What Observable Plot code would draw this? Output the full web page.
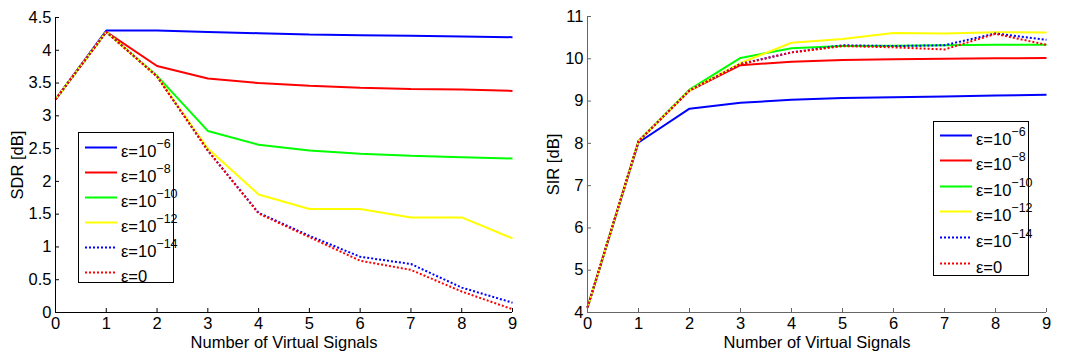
<!DOCTYPE html>
<html><head><meta charset="utf-8">
<script src="https://cdn.jsdelivr.net/npm/d3@7"></script>
<script src="https://cdn.jsdelivr.net/npm/@observablehq/plot@0.6"></script>
<style>
body{margin:0;background:#fff;font-family:"Liberation Sans",Arial,sans-serif}
#wrap{display:flex;width:1070px;height:358px}
.panel{position:relative;width:535px;height:358px}
.legend{position:absolute;border:1.5px solid #000;background:#fff;box-sizing:border-box}
.row{position:absolute;left:0;height:25px;display:flex;align-items:center;white-space:nowrap}
.row svg{margin-left:6px;margin-right:4px}
.row span{position:relative;top:4px;font-size:16.5px;color:#000}
.row sup{font-size:12.5px;position:relative;top:-4px;vertical-align:top;line-height:1}
</style>
</head><body>
<div id="wrap"><div class="panel" id="p1"></div><div class="panel" id="p2"></div></div>
<script>
const xs = [0,1,2,3,4,5,6,7,8,9];
const legendExp = ["−6","−8","−10","−12","−14",null];
const colors = ["#0000ff","#ff0000","#00ff00","#ffff00","#0000ff","#ff0000"];
const dotted = [false,false,false,false,true,true];

const sdrE6  = [3.25,4.30,4.30,4.28,4.26,4.24,4.23,4.22,4.21,4.20];
const sdrE8  = [3.25,4.28,3.76,3.57,3.50,3.46,3.43,3.41,3.40,3.38];
const sdrE10 = [3.25,4.28,3.61,2.77,2.56,2.47,2.42,2.39,2.37,2.35];
const sdrE12 = [3.25,4.28,3.60,2.50,1.80,1.58,1.58,1.45,1.45,1.13];
const sdrE14 = [3.25,4.28,3.60,2.47,1.52,1.17,0.85,0.74,0.38,0.15];
const sdrE0  = [3.25,4.28,3.60,2.47,1.51,1.15,0.79,0.65,0.32,0.05];

const sirE6  = [4.12,8.02,8.82,8.96,9.03,9.07,9.09,9.11,9.13,9.15];
const sirE8  = [4.12,8.05,9.25,9.85,9.93,9.97,9.99,10.00,10.01,10.02];
const sirE10 = [4.12,8.05,9.27,10.02,10.25,10.30,10.31,10.32,10.33,10.33];
const sirE12 = [4.12,8.05,9.25,9.90,10.38,10.47,10.61,10.60,10.63,10.62];
const sirE14 = [4.12,8.05,9.25,9.88,10.15,10.32,10.30,10.32,10.60,10.45];
const sirE0  = [4.12,8.05,9.25,9.87,10.15,10.30,10.27,10.22,10.59,10.33];

const sdrTicks = [0,0.5,1,1.5,2,2.5,3,3.5,4,4.5];
const sirTicks = [4,5,6,7,8,9,10,11];
const xLabel = "Number of Virtual Signals";

function makePanel(el, series, yDomain, yTicks, yLabel, m, axisColor, legendBox){
  const marks = [];
  series.forEach((s,i)=>{
    const data = xs.map((x,j)=>({x, y:s[j]}));
    marks.push(Plot.line(data,{x:"x",y:"y",stroke:colors[i],strokeWidth:2,
      strokeLinecap:"butt", strokeLinejoin:"miter",
      strokeDasharray: dotted[i] ? "2,2" : null}));
  });
  marks.push(
    Plot.ruleX([0],{stroke:axisColor,strokeWidth:1}),
    Plot.ruleY([yDomain[0]],{stroke:axisColor,strokeWidth:1}),
    Plot.axisX({ticks:xs, tickSize:0, tickPadding:5, tickFormat:d=>String(d), label:null, fontSize:16.5}),
    Plot.axisX({ticks:xs, tickSize:-4, tickFormat:()=>"", label:null, stroke:axisColor}),
    Plot.axisY({ticks:yTicks, tickSize:0, tickPadding:4, tickFormat:d=>String(d), label:null, fontSize:16.5}),
    Plot.axisY({ticks:yTicks, tickSize:-4, tickFormat:()=>"", label:null, stroke:axisColor}),
    Plot.text([yLabel],{frameAnchor:"left", dx:m.lab, rotate:-90, text:d=>d, fontSize:16.5, textAnchor:"middle"}),
    Plot.text([xLabel],{frameAnchor:"bottom", dy:35, text:d=>d, fontSize:16.5, textAnchor:"middle"})
  );
  const chart = Plot.plot({
    width:535, height:358,
    marginLeft:m.l, marginRight:m.r, marginTop:m.t, marginBottom:m.b,
    x:{domain:[0,9]}, y:{domain:yDomain},
    style:{fontFamily:'"Liberation Sans",Arial,sans-serif', fontSize:"16.5px", color:"#000", background:"#fff"},
    marks
  });
  el.appendChild(chart);
  const lg = document.createElement("div");
  lg.className = "legend";
  Object.assign(lg.style,{left:legendBox.x+"px",top:legendBox.y+"px",width:legendBox.w+"px",height:legendBox.h+"px"});
  legendExp.forEach((e,i)=>{
    const r = document.createElement("div");
    r.className="row";
    r.style.top = (legendBox.first + i*legendBox.step - 12.5) + "px";
    const dash = dotted[i] ? 'stroke-dasharray="2,2"' : '';
    r.innerHTML = `<svg width="32" height="25"><line x1="0" x2="32" y1="12.5" y2="12.5" stroke="${colors[i]}" stroke-width="2" ${dash}/></svg>` +
      `<span>${e===null ? "ε=0" : "ε=10<sup>"+e+"</sup>"}</span>`;
    lg.appendChild(r);
  });
  el.appendChild(lg);
}

makePanel(document.getElementById("p1"), [sdrE6,sdrE8,sdrE10,sdrE12,sdrE14,sdrE0],
  [0,4.5], sdrTicks, "SDR [dB]", {l:55,r:23,t:17,b:46,lab:-38}, "#000",
  {x:78,y:132,w:96,h:151,first:14,step:25});
makePanel(document.getElementById("p2"), [sirE6,sirE8,sirE10,sirE12,sirE14,sirE0],
  [4,11], sirTicks, "SIR [dB]", {l:52,r:24,t:16,b:46,lab:-34}, "#666",
  {x:398,y:121,w:96,h:155,first:13,step:25.6});
</script>
</body></html>
